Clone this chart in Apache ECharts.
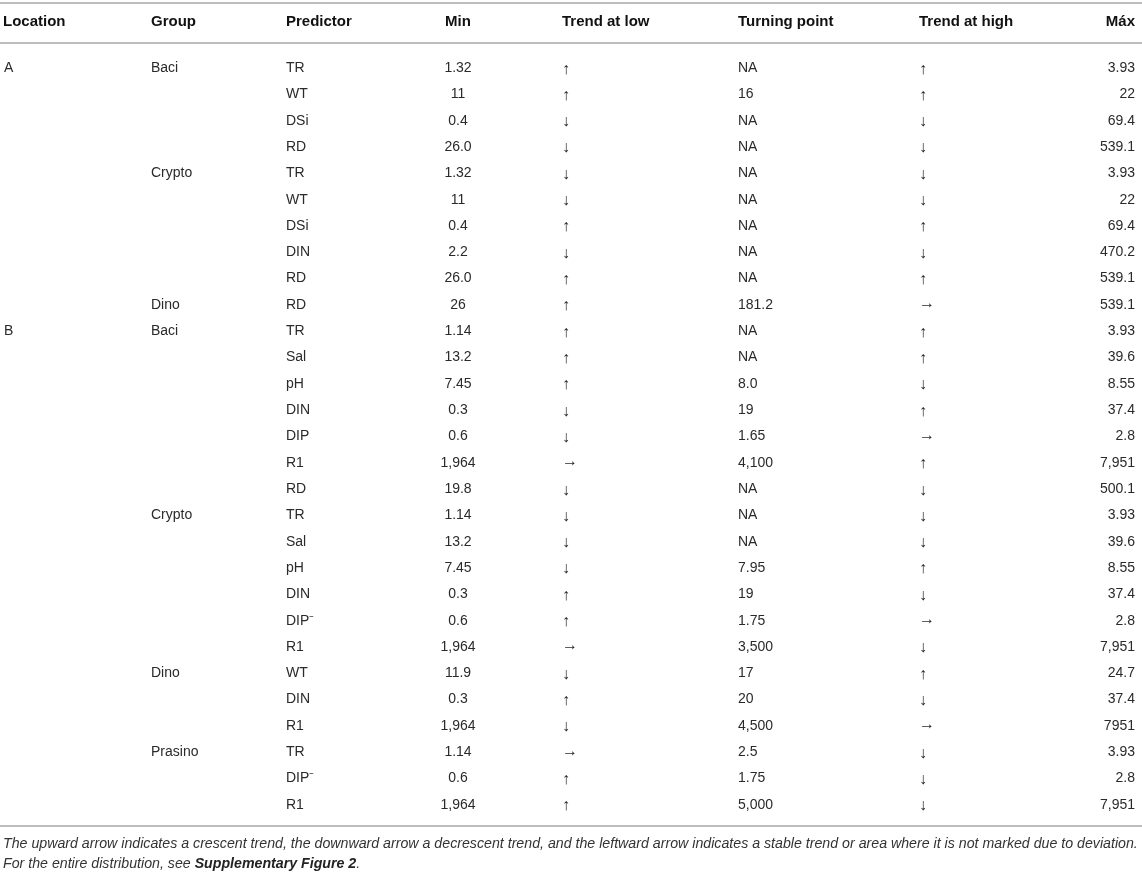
<!DOCTYPE html>
<html>
<head>
<meta charset="utf-8">
<script src="https://cdn.jsdelivr.net/npm/echarts@6/dist/echarts.min.js"></script>
<style>
  html, body { margin: 0; padding: 0; background: #fff; }
  #main { width: 1142px; height: 874px; }
</style>
</head>
<body>
<div id="main"></div>
<script>
// table content, one array per column
const headers = ['Location', 'Group', 'Predictor', 'Min', 'Trend at low', 'Turning point', 'Trend at high', 'Máx']
const location_ = ['A', '', '', '', '', '', '', '', '', '', 'B', '', '', '', '', '', '', '', '', '', '', '', '', '', '', '', '', '', '']
const group = ['Baci', '', '', '', 'Crypto', '', '', '', '', 'Dino',
  'Baci', '', '', '', '', '', '', 'Crypto', '', '', '', '', '', 'Dino', '', '', 'Prasino', '', '']
const predictor = ['TR', 'WT', 'DSi', 'RD', 'TR', 'WT', 'DSi', 'DIN', 'RD', 'RD',
  'TR', 'Sal', 'pH', 'DIN', 'DIP', 'R1', 'RD', 'TR', 'Sal', 'pH', 'DIN', 'DIP⁻', 'R1',
  'WT', 'DIN', 'R1', 'TR', 'DIP⁻', 'R1']
const minVals = ['1.32', '11', '0.4', '26.0', '1.32', '11', '0.4', '2.2', '26.0', '26',
  '1.14', '13.2', '7.45', '0.3', '0.6', '1,964', '19.8', '1.14', '13.2', '7.45', '0.3', '0.6', '1,964',
  '11.9', '0.3', '1,964', '1.14', '0.6', '1,964']
const trendLow = ['↑', '↑', '↓', '↓', '↓', '↓', '↑', '↓', '↑', '↑',
  '↑', '↑', '↑', '↓', '↓', '→', '↓', '↓', '↓', '↓', '↑', '↑', '→',
  '↓', '↑', '↓', '→', '↑', '↑']
const turning = ['NA', '16', 'NA', 'NA', 'NA', 'NA', 'NA', 'NA', 'NA', '181.2',
  'NA', 'NA', '8.0', '19', '1.65', '4,100', 'NA', 'NA', 'NA', '7.95', '19', '1.75', '3,500',
  '17', '20', '4,500', '2.5', '1.75', '5,000']
const trendHigh = ['↑', '↑', '↓', '↓', '↓', '↓', '↑', '↓', '↑', '→',
  '↑', '↑', '↓', '↑', '→', '↑', '↓', '↓', '↓', '↑', '↓', '→', '↓',
  '↑', '↓', '→', '↓', '↓', '↓']
const maxVals = ['3.93', '22', '69.4', '539.1', '3.93', '22', '69.4', '470.2', '539.1', '539.1',
  '3.93', '39.6', '8.55', '37.4', '2.8', '7,951', '500.1', '3.93', '39.6', '8.55', '37.4', '2.8', '7,951',
  '24.7', '37.4', '7951', '3.93', '2.8', '7,951']
const footnote1 = 'The upward arrow indicates a crescent trend, the downward arrow a decrescent trend, and the leftward arrow indicates a stable trend or area where it is not marked due to deviation.'
const footnote2a = 'For the entire distribution, see '
const footnote2b = 'Supplementary Figure 2'

const columns = [location_, group, predictor, minVals, trendLow, turning, trendHigh, maxVals]
// where each column sits (pixels) and how it is aligned
const colX = [4, 151, 286, 458, 562, 738, 919, 1135]
const colAlign = ['left', 'left', 'left', 'center', 'left', 'left', 'left', 'right']
const arrowCols = [4, 6]

const FONT = '"Liberation Sans", Arial, sans-serif'
const rowIdx = predictor.map((_, i) => String(i))

const chart = echarts.init(document.getElementById('main'))

const option = {
  animation: false,
  backgroundColor: '#fff',
  grid: { left: 0, right: 0, top: 55, bottom: 56, containLabel: false },
  xAxis: { type: 'value', min: 0, max: 1142, show: false },
  yAxis: { type: 'category', data: rowIdx, inverse: true, show: false },
  series: [{
    type: 'custom',
    data: predictor.map((_, i) => [0, i]),
    renderItem: function (params, api) {
      const r = api.value(1)
      const children = []
      columns.forEach((col, c) => {
        const txt = col[r]
        if (!txt) return
        const p = api.coord([colX[c], r])
        const isArrow = arrowCols.indexOf(c) >= 0
        const dy = isArrow ? (txt === '→' ? -1 : 1) : 0
        children.push({
          type: 'text',
          x: p[0],
          y: p[1] + dy,
          style: {
            text: txt,
            fill: '#2a2a2a',
            font: (isArrow ? '16px ' : '14px ') + FONT,
            textAlign: colAlign[c],
            textVerticalAlign: 'middle'
          }
        })
      })
      return { type: 'group', children: children }
    }
  }],
  graphic: [
    { type: 'line', shape: { x1: 0, y1: 3, x2: 1142, y2: 3 }, style: { stroke: '#bdbdbd', lineWidth: 2 } },
    { type: 'line', shape: { x1: 0, y1: 43, x2: 1142, y2: 43 }, style: { stroke: '#bdbdbd', lineWidth: 2 } },
    { type: 'line', shape: { x1: 0, y1: 826, x2: 1142, y2: 826 }, style: { stroke: '#bdbdbd', lineWidth: 2 } },
    ...headers.map((h, c) => ({
      type: 'text',
      x: colX[c] + (c === 0 ? -1 : 0),
      y: 22,
      style: {
        text: h,
        fill: '#111',
        font: 'bold 15px ' + FONT,
        textAlign: colAlign[c],
        textVerticalAlign: 'middle'
      }
    })),
    {
      type: 'text', x: 3, y: 844,
      style: { text: footnote1, fill: '#333', font: 'italic 14.2px ' + FONT, textVerticalAlign: 'middle' }
    },
    {
      type: 'text', x: 3, y: 864,
      style: {
        text: '{a|' + footnote2a + '}{b|' + footnote2b + '}{a|.}',
        textVerticalAlign: 'middle',
        rich: {
          a: { fill: '#333', fontFamily: FONT, fontStyle: 'italic', fontSize: 14.2 },
          b: { fill: '#222', fontFamily: FONT, fontStyle: 'italic', fontWeight: 'bold', fontSize: 14.2 }
        }
      }
    }
  ]
}

chart.setOption(option)
</script>
</body>
</html>
